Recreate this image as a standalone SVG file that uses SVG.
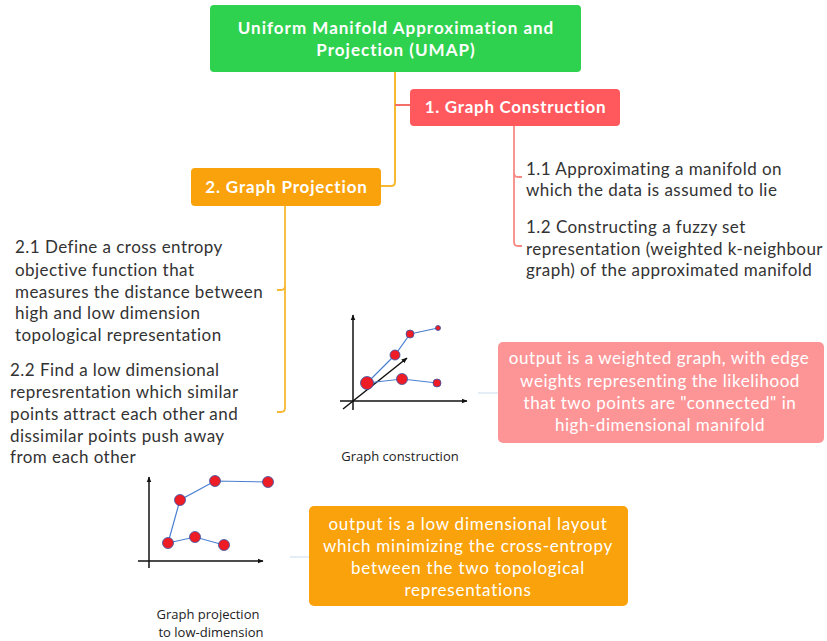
<svg xmlns="http://www.w3.org/2000/svg" width="827" height="641" viewBox="0 0 827 641">
<style>
.box-t{font-family:Lato,"Open Sans",sans-serif;font-weight:bold;fill:#fff;text-anchor:middle;font-size:17px}
.body{font-family:Lato,"Open Sans",sans-serif;font-size:17px;fill:#333;letter-spacing:0.45px}
.note{font-family:Lato,"Open Sans",sans-serif;font-size:17px;fill:#fff;text-anchor:middle;letter-spacing:0.75px}
.note.pk{letter-spacing:0.55px}
.cap{font-family:"Open Sans","Liberation Sans",sans-serif;font-size:13px;fill:#222;text-anchor:middle}
.ax{stroke:#111;stroke-width:1.5;fill:none}
.ed{stroke:#4a7fd0;stroke-width:1.2;fill:none}
.pt{fill:#ee1c25;stroke:#3355aa;stroke-width:0.8}
</style>
<defs>
<marker id="ah" viewBox="0 0 10 10" refX="9" refY="5" markerWidth="6" markerHeight="6" orient="auto-start-reverse" markerUnits="userSpaceOnUse">
<path d="M0,1 L10,5 L0,9 z" fill="#111"/>
</marker>
</defs>
<rect width="827" height="641" fill="#fff"/>

<g id="connectors" fill="none">
<path d="M395,72 V182 Q395,186 391,186 H381" stroke="#f8b932" stroke-width="2"/>
<path d="M395,105 H410" stroke="#f46f6a" stroke-width="2"/>
<path d="M514,126 V242 Q514,246 518,246 H522" stroke="#f78a84" stroke-width="1.8"/>
<path d="M514,173 Q514,177 518,177 H522" stroke="#f78a84" stroke-width="1.8"/>
<path d="M285,206 V408 Q285,412 281,412 H277" stroke="#f8b932" stroke-width="1.8"/>
<path d="M285,286 Q285,290 281,290 H277" stroke="#f8b932" stroke-width="1.8"/>
<path d="M478,393 H498" stroke="#dde8f3" stroke-width="1.5"/>
<path d="M290,557 H309" stroke="#dde8f3" stroke-width="1.5"/>
</g>

<g id="root">
<rect x="210" y="5" width="371" height="67" rx="4" fill="#2fd24f"/>
<text class="box-t" x="396" y="34" letter-spacing="1">Uniform Manifold Approximation and</text>
<text class="box-t" x="396" y="56" letter-spacing="1">Projection (UMAP)</text>
</g>

<g id="graph-construction">
<rect x="410" y="89" width="210" height="37" rx="4" fill="#ff585d"/>
<text class="box-t" x="515.5" y="113" letter-spacing="0.7">1. Graph Construction</text>
</g>

<g id="graph-projection">
<rect x="191" y="168" width="190" height="38" rx="4" fill="#faa20b"/>
<text class="box-t" x="286.5" y="193" letter-spacing="0.85">2. Graph Projection</text>
</g>

<g id="step-1-1">
<text class="body" x="526" y="175">1.1 Approximating a manifold on</text>
<text class="body" x="526" y="196">which the data is assumed to lie</text>
</g>

<g id="step-1-2">
<text class="body" x="526" y="233">1.2 Constructing a fuzzy set</text>
<text class="body" x="526" y="255">representation (weighted k-neighbour</text>
<text class="body" x="526" y="276">graph) of the approximated manifold</text>
</g>

<g id="step-2-1">
<text class="body" x="15" y="253">2.1 Define a cross entropy</text>
<text class="body" x="15" y="276">objective function that</text>
<text class="body" x="15" y="298">measures the distance between</text>
<text class="body" x="15" y="319">high and low dimension</text>
<text class="body" x="15" y="341">topological representation</text>
</g>

<g id="step-2-2">
<text class="body" x="10" y="376">2.2 Find a low dimensional</text>
<text class="body" x="10" y="398">represrentation which similar</text>
<text class="body" x="10" y="420">points attract each other and</text>
<text class="body" x="10" y="442">dissimilar points push away</text>
<text class="body" x="10" y="463">from each other</text>
</g>

<g id="chart-construction">
<line class="ax" x1="353" y1="410" x2="353" y2="315" marker-end="url(#ah)"/>
<line class="ax" x1="340" y1="401" x2="467" y2="401" marker-end="url(#ah)"/>
<line class="ax" x1="343" y1="409" x2="407" y2="358" marker-end="url(#ah)"/>
<polyline class="ed" points="367,383 395,355 410,334 438,328"/>
<polyline class="ed" points="367,383 402,379 437,383"/>
<circle class="pt" cx="367" cy="383" r="6.5"/>
<circle class="pt" cx="395" cy="355" r="5"/>
<circle class="pt" cx="410" cy="334" r="4"/>
<circle class="pt" cx="438" cy="328" r="2.5"/>
<circle class="pt" cx="402" cy="379" r="5.5"/>
<circle class="pt" cx="437" cy="383" r="4"/>
<text class="cap" x="400" y="461">Graph construction</text>
</g>

<g id="chart-projection">
<line class="ax" x1="149" y1="568" x2="149" y2="477" marker-end="url(#ah)"/>
<line class="ax" x1="138" y1="561" x2="263" y2="561" marker-end="url(#ah)"/>
<polyline class="ed" points="168,543 180,500 215,481 268,482"/>
<polyline class="ed" points="168,543 195,537 224,545"/>
<circle class="pt" cx="168" cy="543" r="5.5"/>
<circle class="pt" cx="180" cy="500" r="5.5"/>
<circle class="pt" cx="215" cy="481" r="5.5"/>
<circle class="pt" cx="268" cy="482" r="5.5"/>
<circle class="pt" cx="195" cy="537" r="5.5"/>
<circle class="pt" cx="224" cy="545" r="5.5"/>
<text class="cap" x="208" y="619">Graph projection</text>
<text class="cap" x="211" y="637">to low-dimension</text>
</g>

<g id="note-construction">
<rect x="498" y="342" width="326" height="101" rx="5" fill="#fd9597"/>
<text class="note pk" x="659" y="364">output is a weighted graph, with edge</text>
<text class="note pk" x="660" y="387">weights representing the likelihood</text>
<text class="note pk" x="660" y="409">that two points are "connected" in</text>
<text class="note pk" x="660" y="431">high-dimensional manifold</text>
</g>

<g id="note-projection">
<rect x="309" y="506" width="319" height="100" rx="5" fill="#faa20b"/>
<text class="note" x="468" y="530">output is a low dimensional layout</text>
<text class="note" x="468" y="552">which minimizing the cross-entropy</text>
<text class="note" x="468" y="574">between the two topological</text>
<text class="note" x="468" y="596">representations</text>
</g>
</svg>
